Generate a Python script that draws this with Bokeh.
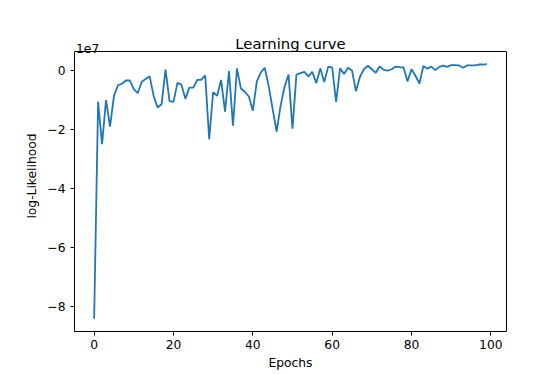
import numpy as np
from bokeh.plotting import figure
from bokeh.models import Range1d, FixedTicker, Label, LinearAxis, Span
from bokeh.embed import file_html
from bokeh.resources import INLINE

# data (log-likelihood in units of 1e7)
epochs = list(range(100))
loglik_1e7 = [
    -8.40, -1.07, -2.50, -1.01, -1.91, -0.87, -0.51, -0.46, -0.35, -0.35,
    -0.64, -0.78, -0.39, -0.30, -0.21, -0.87, -1.26, -1.15, 0.02, -1.05,
    -1.07, -0.43, -0.49, -0.97, -0.59, -0.59, -0.33, -0.33, -0.18, -2.33,
    -0.74, -0.87, -0.33, -1.40, -0.03, -1.88, 0.06, -0.62, -0.73, -0.89,
    -1.37, -0.39, -0.08, 0.08, -0.53, -1.32, -2.08, -1.20, -0.57, -0.15,
    -1.98, -0.15, -0.10, -0.06, -0.21, -0.06, -0.44, 0.06, -0.40, 0.11,
    0.09, -1.07, 0.06, -0.13, 0.08, -0.01, -0.71, -0.23, 0.03, 0.15,
    0.03, -0.09, 0.13, 0.01, -0.02, 0.03, 0.12, 0.10, 0.09, -0.38,
    0.03, -0.19, -0.45, 0.14, 0.05, 0.12, 0.00, 0.11, 0.15, 0.11,
    0.17, 0.17, 0.16, 0.08, 0.16, 0.16, 0.16, 0.19, 0.19, 0.20,
]
x_ticks = [0, 20, 40, 60, 80, 100]
y_ticks = [-8, -6, -4, -2, 0]
title_text = "Learning curve"
x_label = "Epochs"
y_label = "log-Likelihood"
offset_text = "1e7"

FONT = "DejaVu Sans"

# layout (pixels)
BOX_H = 280          # height of the visible axes box
EXTRA_TOP = 31       # room above the box (inside the frame) for title / offset text
FRAME_W = 432
TITLE_GAP = 8        # px between box top and title baseline
OFFSET_GAP = 3.4     # px between box top and "1e7" baseline

xmin, xmax = min(epochs), max(epochs)
ymin, ymax = min(loglik_1e7), max(loglik_1e7)
xpad = 0.05 * (xmax - xmin)
ypad = 0.05 * (ymax - ymin)
x0, x1 = xmin - xpad, xmax + xpad
y0, y1 = ymin - ypad, ymax + ypad
per_px_y = (y1 - y0) / BOX_H
per_px_x = (x1 - x0) / FRAME_W
y_ext = y1 + EXTRA_TOP * per_px_y

p = figure(
    frame_width=FRAME_W, frame_height=BOX_H + EXTRA_TOP,
    min_border_left=74, min_border_right=44, min_border_top=20, min_border_bottom=40,
    output_backend="svg", toolbar_location=None,
    x_range=Range1d(x0, x1),
    y_range=Range1d(y0, y_ext),
)

p.grid.visible = False
p.outline_line_color = None
p.background_fill_color = "white"
p.border_fill_color = "white"

for ax in (p.xaxis[0], p.yaxis[0]):
    ax.axis_line_color = "black"
    ax.axis_line_width = 1
    ax.major_tick_out = 4
    ax.major_tick_in = 0
    ax.minor_tick_line_color = None
    ax.major_tick_line_color = "black"
    ax.major_label_text_font = FONT
    ax.major_label_text_font_size = "12.3px"
    ax.major_label_text_color = "black"
    ax.axis_label_text_font = FONT
    ax.axis_label_text_font_size = "12.3px"
    ax.axis_label_text_font_style = "normal"
    ax.axis_label_text_color = "black"

p.yaxis.bounds = (y0, y1)
p.xaxis.ticker = FixedTicker(ticks=x_ticks)
p.yaxis.ticker = FixedTicker(ticks=y_ticks)
p.yaxis.major_label_overrides = {t: str(t).replace("-", "\u2212") for t in y_ticks}
p.xaxis.axis_label = x_label
p.yaxis.axis_label = y_label
p.xaxis.major_label_standoff = 4
p.yaxis.major_label_standoff = 5
p.xaxis.axis_label_standoff = 4
p.yaxis.axis_label_standoff = 5

# right edge of the axes box
right_ax = LinearAxis(ticker=FixedTicker(ticks=[]), bounds=(y0, y1),
                      axis_line_color="black", axis_line_width=1,
                      major_tick_line_color=None, minor_tick_line_color=None,
                      major_label_text_font_size="0px")
p.add_layout(right_ax, "right")
# top edge of the axes box
p.add_layout(Span(location=y1, dimension="width", line_color="black", line_width=1))

p.line(epochs, loglik_1e7, line_color="#1f77b4", line_width=1.8)

p.add_layout(Label(
    x=(x0 + x1) / 2, y=y1 + TITLE_GAP * per_px_y, text=title_text,
    text_font=FONT, text_font_size="14.8px", text_color="black",
    text_align="center", text_baseline="alphabetic",
))
p.add_layout(Label(
    x=x0 + 1.5 * per_px_x, y=y1 + OFFSET_GAP * per_px_y, text=offset_text,
    text_font=FONT, text_font_size="12.3px", text_color="black",
    text_align="left", text_baseline="alphabetic",
))

open("out.html", "w").write(file_html(p, INLINE))
